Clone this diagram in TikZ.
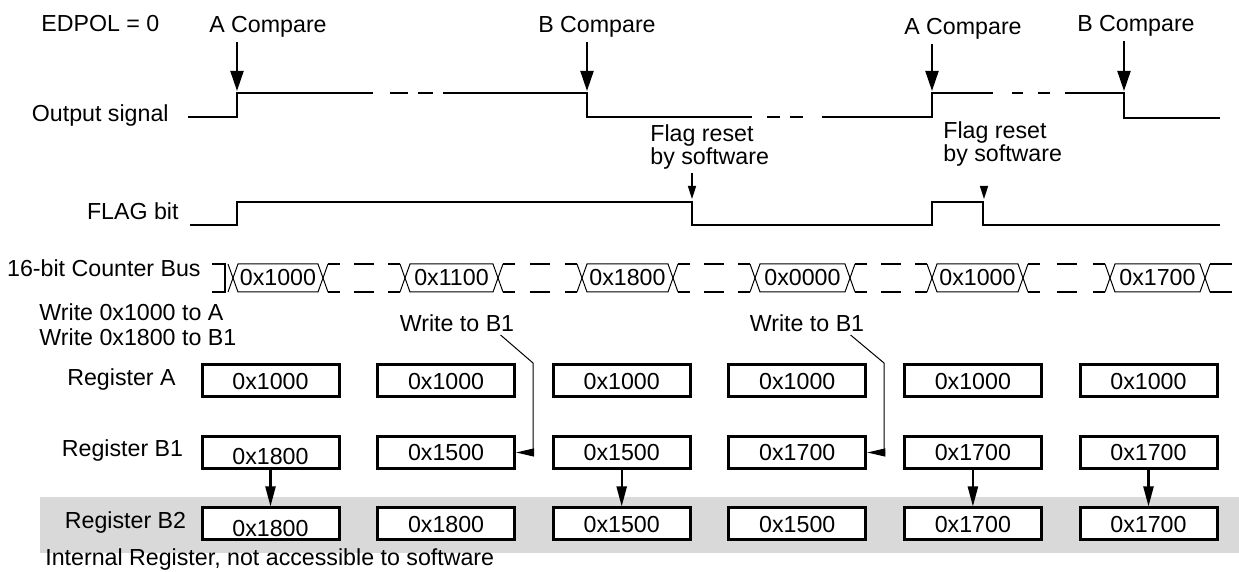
\documentclass[tikz,border=0pt]{standalone}
\usepackage{fontspec}
\setmainfont{Liberation Sans}
\usetikzlibrary{arrows.meta,calc,positioning}

\tikzset{
  sig/.style={line width=1.4pt},
  cmparrow/.style={line width=1pt,-{Triangle[length=10pt,width=6.5pt]}},
  flagarrow/.style={line width=0.8pt,-{Triangle[length=6.5pt,width=4pt]}},
  regbox/.style={draw,fill=white,line width=1.5pt,minimum width=68.5pt,minimum height=16pt,
    inner sep=0pt,text height=8.4pt,text depth=0pt},
  lowtext/.style={text height=12.4pt},
  midtext/.style={},
  xferarrow/.style={line width=1.1pt,-{Triangle[length=10pt,width=5pt]}},
  leader/.style={line width=0.5pt,-{Triangle[length=9pt,width=4pt]}},
  busline/.style={line width=0.5pt},
  busedge/.style={line width=1pt},
  twoline/.style={anchor=north west,align=left,inner sep=0pt,font=\fontsize{11.6}{9.5}\selectfont},
}

\begin{document}
\begin{tikzpicture}[x=0.5pt,y=-0.5pt,font=\fontsize{11.6}{14}\selectfont,inner sep=2pt]
  \useasboundingbox (0,0) rectangle (1239,572);

  % compare events and output signal
  \node[anchor=base west] (edpol) at (37,32) {EDPOL = 0};
  \node[anchor=base] (acmp1) at (268,33) {A Compare};
  \node[anchor=base] (bcmp1) at (597,33) {B Compare};
  \node[anchor=base] (acmp2) at (963,35) {A Compare};
  \node[anchor=base] (bcmp2) at (1136,32) {B Compare};
  \coordinate (ta1) at (237,91);
  \coordinate (tb1) at (587,91);
  \coordinate (ta2) at (932,91);
  \coordinate (tb2) at (1124,91);
  \draw[cmparrow] (acmp1.south -| ta1) -- (ta1);
  \draw[cmparrow] (bcmp1.south -| tb1) -- (tb1);
  \draw[cmparrow] (acmp2.south -| ta2) -- (ta2);
  \draw[cmparrow] (bcmp2.south -| tb2) -- (tb2);

  \node[anchor=base east] (outlbl) at (173,122) {Output signal};
  \draw[sig] (188,117) -- (237,117) -- (237,93) -- (373,93);
  \draw[sig] (390,93) -- (408,93) (418,93) -- (433,93);
  \draw[sig] (443,93) -- (587,93) -- (587,117) -- (752,117);
  \draw[sig] (767,117) -- (780,117) (790,117) -- (803,117);
  \draw[sig] (822,117) -- (932,117) -- (932,93) -- (993,93);
  \draw[sig] (1012,93) -- (1023,93) (1038,93) -- (1050,93);
  \draw[sig] (1065,93) -- (1124,93) -- (1124,118) -- (1220,118);

  % flag bit
  \node[twoline] (fr1) at (650,124) {Flag reset\\by software};
  \node[twoline] (fr2) at (943,121) {Flag reset\\by software};
  \coordinate (tf1) at (692,199);
  \coordinate (tf2) at (984,199);
  \draw[flagarrow] ($(fr1.south -| tf1)+(0,3)$) -- (tf1);
  \draw[flagarrow] ($(fr2.south -| tf2)+(0,20)$) -- (tf2);

  \node[anchor=base east] (flaglbl) at (183,220) {FLAG bit};
  \draw[sig] (190,225) -- (237,225) -- (237,202) -- (692,202) -- (692,225)
    -- (932,225) -- (932,202) -- (983,202) -- (983,225) -- (1220,225);

  % counter bus
  \node[anchor=base east] (buslbl) at (205,277) {16-bit Counter Bus};
  \draw[busedge] (212,264) -- (225,264) -- (225,292) -- (212,292);
  \draw[busline] (228,264) -- (233,278) -- (228,292);
  \foreach \l/\r/\v [count=\i] in {228/328/0x1000, 400/503/0x1100, 577/678/0x1800,
      750/855/0x0000, 927/1028/0x1000, 1105/1210/0x1700} {
    \draw[busline] (\l+5,278) -- (\l+10,264) -- (\r-10,264) -- (\r-5,278)
      -- (\r-10,292) -- (\l+10,292) -- cycle;
    \draw[busline] (\r,264) -- (\r-5,278) -- (\r,292);
    \node[inner sep=0pt] (bus\i) at ({(\l+\r)/2},278) {\v};
  }
  \foreach \r/\l in {328/400, 503/577, 678/750, 855/927, 1028/1105} {
    \draw[busedge] (\r,264) -- (\r+12,264) (\r,292) -- (\r+12,292);
    \draw[busedge] ({(\r+\l)/2-10},264) -- ({(\r+\l)/2+10},264)
      ({(\r+\l)/2-10},292) -- ({(\r+\l)/2+10},292);
    \draw[busedge] (\l-12,264) -- (\l,264) (\l-12,292) -- (\l,292);
    \draw[busline] (\l,264) -- (\l+5,278) -- (\l,292);
  }
  \draw[busedge] (1210,264) -- (1232,264) (1210,292) -- (1232,292);

  % registers
  \node[anchor=base west] (init1) at (35,321) {Write 0x1000 to A};
  \node[anchor=base west] (init2) at (35,346) {Write 0x1800 to B1};
  \node[anchor=base] (wrb1) at (457,332) {Write to B1};
  \node[anchor=base] (wrb2) at (807,332) {Write to B1};

  \fill[black!15] (40,497) rectangle (1239,553);
  \node[anchor=base west] (intlbl) at (41,566) {Internal Register, not accessible to software};

  \node[anchor=base] (lblA) at (121.5,386) {Register A};
  \node[anchor=base] (lblB1) at (122.5,457) {Register B1};
  \node[anchor=base] (lblB2) at (125.5,529) {Register B2};

  \foreach \v/\s [count=\i] in {0x1000/midtext, 0x1000/midtext, 0x1000/midtext,
      0x1000/midtext, 0x1000/midtext, 0x1000/midtext}
    \node[regbox,\s] (ra\i) at ({270.5+175.6*(\i-1)},381) {\v};
  \foreach \v/\s [count=\i] in {0x1800/lowtext, 0x1500/midtext, 0x1500/midtext,
      0x1700/midtext, 0x1700/midtext, 0x1700/midtext}
    \node[regbox,\s] (rb\i) at ({270.5+175.6*(\i-1)},452.5) {\v};
  \foreach \v/\s [count=\i] in {0x1800/lowtext, 0x1800/midtext, 0x1500/midtext,
      0x1500/midtext, 0x1700/midtext, 0x1700/midtext}
    \node[regbox,\s] (rc\i) at ({270.5+175.6*(\i-1)},524) {\v};

  \foreach \i in {1,3,5,6}
    \draw[xferarrow] (rb\i) -- (rc\i);

  \coordinate (bend1) at (533,363);
  \coordinate (bend2) at (884,363);
  \draw[leader] ($(wrb1.base east)+(-18,3)$) -- (bend1) |- (rb2.east);
  \draw[leader] ($(wrb2.base east)+(-18,3)$) -- (bend2) |- (rb4.east);
\end{tikzpicture}
\end{document}
